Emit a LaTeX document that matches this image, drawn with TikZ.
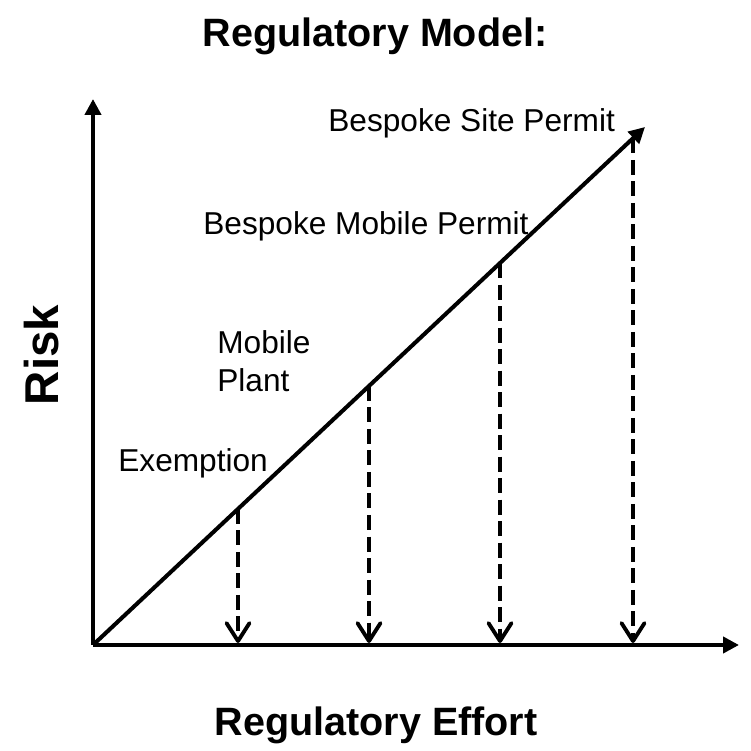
\documentclass[tikz,border=0pt]{standalone}
\usepackage{fontspec}
\setmainfont{Liberation Sans}
\usetikzlibrary{arrows.meta}
\begin{document}
\begin{tikzpicture}[line join=round,>={Triangle[length=0.32cm,width=0.32cm]},
	axis/.style={line width=2.8pt},
	drop/.style={line width=2.2pt,dash pattern=on 0.3cm off 0.13cm,-{Straight Barb[length=0.36cm,width=0.46cm,round]}},
	lbl/.style={inner sep=0pt,font=\fontsize{18}{21.6}\selectfont},
	ttl/.style={inner sep=0pt,font=\fontsize{22.5}{27}\selectfont\bfseries}]
	\useasboundingbox (-1.86,-2.12) rectangle (13.14,12.9);
	\coordinate (O) at (0,0);
	\coordinate (ytip) at (0,10.92);
	\coordinate (xtip) at (12.92,0);
	\coordinate (dtip) at (11.04,10.36);
	\draw[axis,->] (O)--(ytip);
	\draw[axis,->] (O)--(xtip);
	\draw[line width=2.3pt,->] (O)--(dtip);
	\foreach \x [count=\i] in {2.9,5.52,8.14,10.8}{
		\coordinate (top\i) at (\x,{\x*10.36/11.04});
		\coordinate (foot\i) at (\x,0.04);
		\draw[drop] (top\i)--(foot\i);
	}
	\node[ttl,anchor=base] (title) at (5.64,11.96) {Regulatory Model:};
	\node[ttl,anchor=base] (effort) at (5.66,-1.8) {Regulatory Effort};
	\node[ttl,anchor=base,rotate=90,font=\fontsize{27}{32}\selectfont\bfseries] (risk) at (-0.7,5.8) {Risk};
	\node[lbl,anchor=base west] (site) at (4.7,10.26) {Bespoke Site Permit};
	\node[lbl,anchor=base west] (mobperm) at (2.2,8.2) {Bespoke Mobile Permit};
	\node[lbl,anchor=north west,align=left] (plant) at (2.48,6.3) {Mobile\\Plant};
	\node[lbl,anchor=base west] (exempt) at (0.5,3.46) {Exemption};
\end{tikzpicture}
\end{document}
